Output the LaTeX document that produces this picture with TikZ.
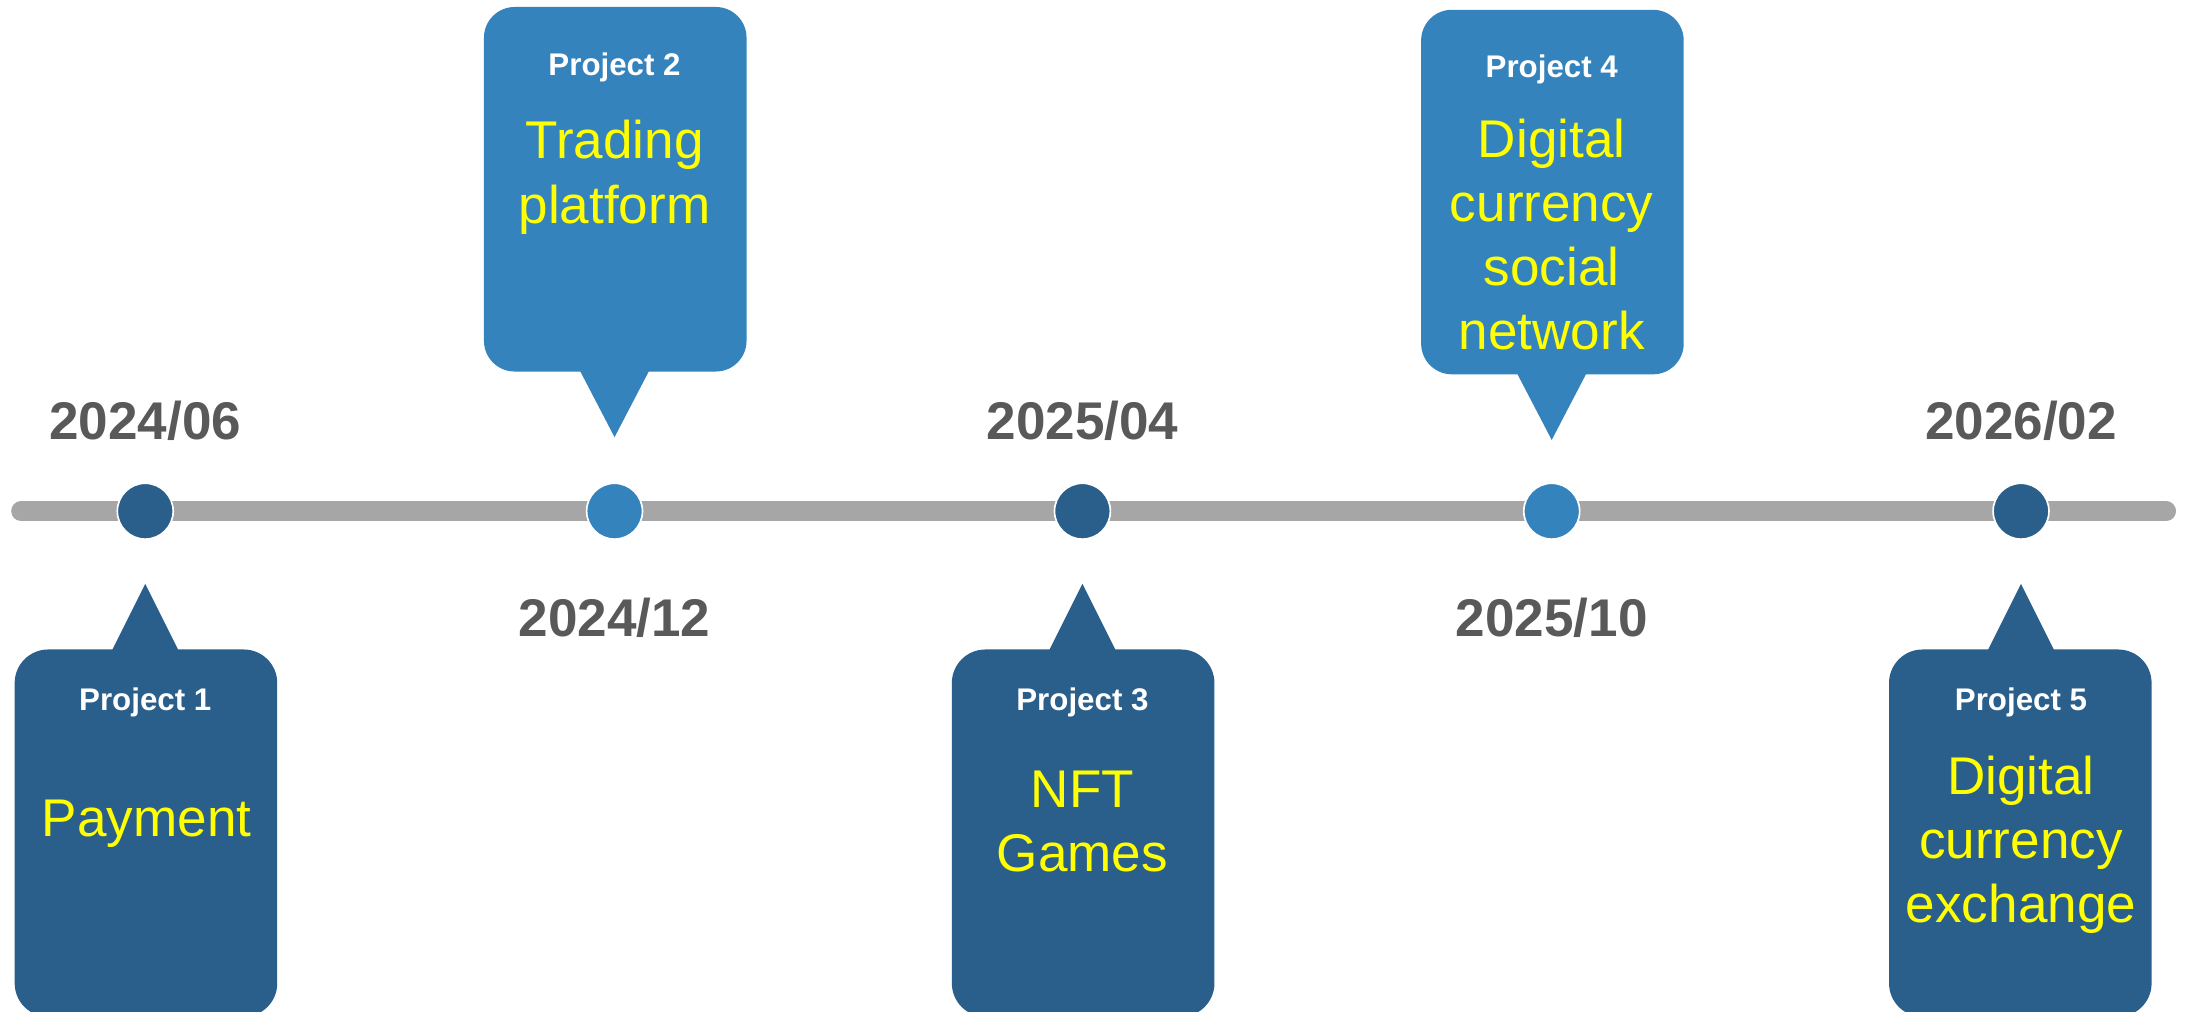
\documentclass[tikz,border=0pt]{standalone}
\usepackage{fontspec}
\setmainfont{Liberation Sans}
\definecolor{dkblue}{HTML}{2A5F8B}
\definecolor{ltblue}{HTML}{3483BD}
\definecolor{dategray}{HTML}{595959}
\definecolor{linegray}{HTML}{A6A6A6}
\definecolor{yel}{HTML}{FFFF00}
\begin{document}
\begin{tikzpicture}[x=0.5pt,y=-0.5pt,
  dot/.style={circle,draw=white,line width=0.6pt,minimum size=20pt,inner sep=0pt},
  dotdk/.style={dot,fill=dkblue},
  dotlt/.style={dot,fill=ltblue},
  datelbl/.style={font=\fontsize{19}{22}\selectfont\bfseries,text=dategray,inner sep=0pt},
  boxdk/.style={rectangle,rounded corners=12pt,fill=dkblue,minimum width=94pt,minimum height=131.5pt,inner sep=0pt},
  boxlt/.style={rectangle,rounded corners=11pt,fill=ltblue,minimum width=94pt,minimum height=130.5pt,inner sep=0pt},
  ttl/.style={font=\fontsize{11.2}{13}\selectfont\bfseries,text=white,inner sep=0pt},
  body/.style={font=\fontsize{19}{23}\selectfont,text=yel,align=center,inner sep=0pt}
]
\useasboundingbox (0,0) rectangle (1568,724);
% timeline
\coordinate (tl) at (15,366);
\coordinate (tr) at (1551,366);
\draw[linegray,line width=7pt,line cap=round] (tl) -- (tr);
% dots
\node[dotdk] (d1) at (104,366) {};
\node[dotlt] (d2) at (440,366) {};
\node[dotdk] (d3) at (775,366) {};
\node[dotlt] (d4) at (1111,366) {};
\node[dotdk] (d5) at (1447,366) {};
% dates
\node[datelbl] (l1) at (104,301) {2024/06};
\node[datelbl] (l2) at (440,442) {2024/12};
\node[datelbl] (l3) at (775,301) {2025/04};
\node[datelbl] (l4) at (1111,442) {2025/10};
\node[datelbl] (l5) at (1447,301) {2026/02};
% bottom callouts
\node[boxdk] (b1) at (104.5,596.5) {};
\node[boxdk] (b3) at (775.5,596.5) {};
\node[boxdk] (b5) at (1446.5,596.5) {};
\foreach \b/\x in {b1/104,b3/775,b5/1447}{
  \coordinate (\b apex) at (\x,418);
  \fill[dkblue] (\x-24,466) -- (\b apex) -- (\x+24,466) -- cycle;
}
% top callouts
\node[boxlt] (b2) at (440.5,135.5) {};
\node[boxlt] (b4) at (1111.5,137.5) {};
\foreach \b/\x/\y in {b2/440/265,b4/1111/267}{
  \coordinate (\b apex) at (\x,\y+48);
  \fill[ltblue] (\x-25,\y) -- (\b apex) -- (\x+25,\y) -- cycle;
}
% titles
\node[ttl] (t1) at (104,503) {Project 1};
\node[ttl] (t2) at (440,48) {Project 2};
\node[ttl] (t3) at (775,503) {Project 3};
\node[ttl] (t4) at (1111,50) {Project 4};
\node[ttl] (t5) at (1447,503) {Project 5};
% bodies
\node[body] (p1) at (105,590) {Payment};
\node[body] (p2) at (440,127) {Trading\\platform};
\node[body] (p3) at (775,588) {NFT\\Games};
\node[body] (p4) at (1111,168) {Digital\\currency\\social\\network};
\node[body] (p5) at (1447,605) {Digital\\currency\\exchange};
\end{tikzpicture}
\end{document}
